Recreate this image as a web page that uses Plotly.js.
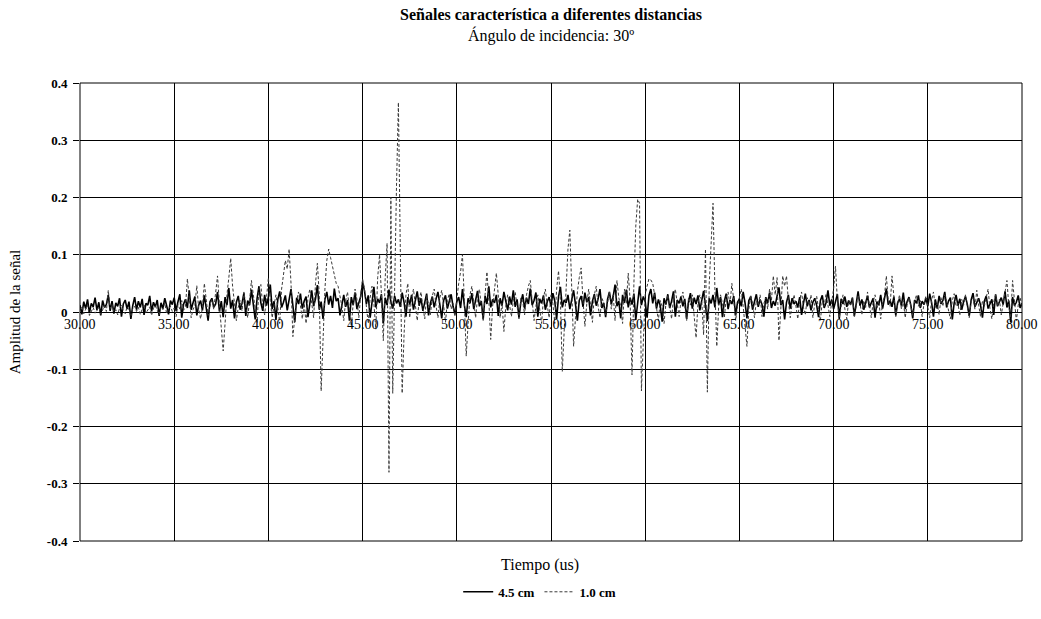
<!DOCTYPE html>
<html>
<head>
<meta charset="utf-8">
<script src="https://cdn.plot.ly/plotly-3.0.1.min.js"></script>
<style>html,body{margin:0;padding:0;background:#fff;}#chart{width:1041px;height:619px;}</style>
</head>
<body>
<div id="chart"></div>
<script>
// Time base (microseconds): first sample and sample step
const timeStart = 30.0;
const timeStep = 0.1;

// Series names
const seriesNames = ["4.5 cm", "1.0 cm"];

// Signal amplitude, 4.5 cm (one row per microsecond, 30..79, plus 80.0)
const amp45 = [
 0.012,-0.004,0.018,0.006,0.022,-0.002,0.015,0.009,0.025,0.003,
 0.017,-0.006,0.020,0.008,0.013,0.030,0.002,0.019,-0.003,0.016,
 0.010,0.024,-0.008,0.014,0.021,0.005,0.018,-0.012,0.011,0.026,
 0.004,0.019,0.008,0.023,-0.005,0.015,0.012,0.028,0.001,0.017,
 0.009,0.021,-0.007,0.016,0.006,0.024,0.011,-0.004,0.020,0.013,
 0.025,0.002,0.018,0.031,-0.010,0.014,0.022,0.007,0.038,0.004,
 0.016,0.027,-0.006,0.012,0.020,0.003,0.029,0.010,-0.015,0.018,
 0.024,0.008,0.014,0.035,0.001,0.019,-0.009,0.026,0.012,0.042,
 0.006,0.021,-0.011,0.017,0.028,0.004,0.015,0.033,-0.007,0.020,
 0.012,0.039,0.009,-0.013,0.024,0.045,0.016,0.002,0.030,0.011,
 0.026,0.048,0.005,0.019,-0.014,0.022,0.036,0.008,0.017,0.029,
 0.003,0.021,0.040,0.011,-0.018,0.025,0.014,0.032,0.006,0.019,
 0.027,-0.009,0.016,0.038,0.010,0.023,0.047,0.004,0.018,-0.012,
 0.022,0.035,0.013,0.028,0.007,0.041,0.019,0.024,-0.006,0.015,
 0.030,0.009,0.021,-0.015,0.026,0.012,0.034,0.005,0.018,0.027,
 0.052,0.037,0.014,0.029,-0.010,0.020,0.044,0.008,0.023,0.016,
 0.031,-0.020,0.025,0.012,0.039,0.018,0.006,0.028,0.015,0.022,
 0.009,0.034,0.017,-0.008,0.026,0.013,0.030,0.004,0.021,0.036,
 0.011,0.024,0.002,0.019,0.032,-0.006,0.016,0.027,0.008,0.023,
 0.035,0.013,-0.011,0.020,0.029,0.006,0.017,0.031,0.010,-0.004,
 0.018,0.026,0.007,0.040,0.012,-0.009,0.024,0.015,0.033,0.005,
 0.021,0.037,0.010,0.019,-0.013,0.028,0.014,0.045,0.008,0.022,
 0.016,0.030,-0.007,0.024,0.011,0.035,0.019,0.003,0.027,0.013,
 0.038,0.009,0.022,-0.010,0.017,0.031,0.006,0.025,0.014,0.041,
 0.012,0.020,0.034,-0.008,0.023,0.015,0.029,0.004,0.018,0.026,
 0.010,0.033,0.019,-0.012,0.027,0.044,0.008,0.021,0.016,0.030,
 0.005,0.024,0.038,0.013,-0.015,0.020,0.028,0.009,0.034,0.017,
 0.026,-0.006,0.019,0.031,0.011,0.023,0.040,0.007,0.016,-0.009,
 0.022,0.035,0.014,0.027,0.048,0.010,0.019,-0.011,0.030,0.016,
 0.039,0.008,0.025,0.013,0.032,-0.014,0.021,0.045,0.012,0.027,
 0.018,-0.010,0.029,0.040,0.015,0.034,0.006,0.022,0.011,-0.017,
 0.024,0.013,0.031,0.007,0.019,0.036,-0.008,0.021,0.015,0.027,
 0.010,0.023,-0.012,0.018,0.033,0.006,0.025,0.014,0.029,0.003,
 0.020,0.037,0.011,-0.016,0.024,0.015,0.030,0.008,0.042,0.013,
 0.026,-0.009,0.019,0.032,0.005,0.021,0.014,0.028,-0.006,0.017,
 0.023,0.010,0.035,0.016,-0.011,0.020,0.027,0.004,0.018,0.031,
 0.009,0.022,0.013,-0.008,0.026,0.015,0.034,0.007,0.019,0.011,
 0.028,0.043,0.012,0.021,-0.013,0.017,0.030,0.006,0.024,0.014,
 0.019,0.008,0.026,-0.005,0.015,0.032,0.010,0.021,0.003,0.017,
 0.024,0.012,-0.009,0.020,0.029,0.007,0.016,0.038,0.011,0.022,
 0.005,0.018,0.031,-0.012,0.023,0.014,0.027,0.009,0.020,0.013,
 0.025,-0.007,0.017,0.036,0.011,0.022,0.004,0.019,0.028,0.008,
 0.015,0.024,-0.010,0.018,0.012,0.030,0.006,0.021,0.041,0.013,
 0.020,0.009,0.027,-0.006,0.016,0.023,0.011,0.034,0.005,0.018,
 0.026,0.012,-0.011,0.021,0.015,0.029,0.007,0.019,0.013,0.024,
 0.010,0.032,0.017,-0.008,0.022,0.006,0.028,0.014,0.020,0.035,
 0.008,0.019,0.025,-0.013,0.016,0.030,0.011,0.023,0.004,0.018,
 0.027,0.013,-0.007,0.021,0.033,0.009,0.017,0.024,0.012,-0.010,
 0.019,0.028,0.006,0.015,0.022,-0.005,0.031,0.010,0.018,0.025,
 0.013,0.036,0.008,0.020,-0.018,0.026,0.011,0.017,0.029,0.007,
 0.015
];

// Signal amplitude, 1.0 cm (one row per microsecond, 30..79, plus 80.0)
const amp10 = [
 0.004,0.010,-0.003,0.006,0.012,-0.006,0.002,0.008,-0.002,0.005,
 0.009,-0.004,0.003,0.011,0.001,0.038,0.006,0.013,0.000,0.004,
 -0.005,0.007,0.012,0.002,-0.003,0.009,0.004,-0.008,0.006,0.010,
 0.001,0.008,-0.004,0.005,0.014,-0.002,0.003,0.009,-0.006,0.007,
 0.011,0.002,-0.005,0.008,0.004,0.016,-0.003,0.006,0.010,0.001,
 0.007,-0.008,0.013,0.005,0.020,0.003,0.010,0.058,0.018,-0.010,
 0.004,0.012,0.046,0.006,-0.012,0.008,0.050,0.015,-0.006,0.010,
 0.022,0.005,0.040,0.063,0.012,-0.025,-0.068,-0.020,0.030,0.060,
 0.094,0.045,0.010,-0.015,0.008,0.020,0.002,0.035,0.012,-0.010,
 0.020,0.055,0.030,0.005,-0.018,0.040,0.048,0.010,-0.005,0.025,
 0.060,0.020,-0.010,0.012,0.030,0.008,-0.020,0.040,0.065,0.090,
 0.075,0.110,0.050,-0.043,-0.010,0.020,0.035,0.010,-0.012,0.015,
 -0.020,0.025,0.040,0.015,-0.010,0.050,0.085,0.030,-0.138,-0.050,
 0.040,0.090,0.110,0.095,0.078,0.062,0.050,0.045,0.030,0.010,
 -0.015,0.020,0.035,0.008,-0.025,0.015,0.040,0.022,-0.010,0.030,
 0.058,0.040,0.010,-0.020,0.025,0.045,0.015,-0.030,0.060,0.100,
 0.030,-0.050,0.060,0.120,-0.280,0.200,-0.142,0.080,0.220,0.366,
 0.100,-0.142,-0.040,0.030,0.050,-0.010,0.025,0.040,0.012,-0.015,
 0.020,0.035,0.008,-0.012,0.030,0.015,-0.005,0.028,0.040,0.010,
 -0.010,0.025,0.038,0.012,-0.018,0.020,0.032,0.005,0.015,-0.008,
 0.025,0.050,0.070,0.100,0.020,-0.077,-0.020,0.030,0.045,0.015,
 -0.010,0.025,0.040,0.012,-0.015,0.030,0.070,0.020,-0.048,0.010,
 0.040,0.068,0.030,-0.010,0.015,-0.034,0.010,0.030,0.012,-0.008,
 0.020,0.035,0.010,-0.012,0.025,0.018,-0.005,0.030,0.045,0.055,
 0.020,-0.015,0.010,0.030,0.005,-0.020,0.025,0.040,0.012,-0.010,
 0.030,0.015,-0.020,0.040,0.072,0.020,-0.104,-0.030,0.060,0.110,
 0.143,0.040,-0.060,-0.010,0.035,0.060,0.077,0.020,-0.025,0.015,
 0.040,0.012,-0.018,0.030,0.045,0.010,-0.010,0.025,0.015,-0.005,
 0.020,0.035,0.005,0.030,-0.015,0.055,0.025,0.010,-0.020,0.040,
 0.015,0.068,0.020,-0.110,0.050,0.150,0.197,0.190,-0.138,-0.040,
 0.030,0.045,0.058,0.056,0.050,0.030,0.005,-0.015,0.020,0.010,
 -0.020,0.015,0.030,0.010,-0.012,0.025,0.040,0.015,-0.008,0.020,
 0.035,0.010,-0.015,0.025,0.012,0.030,-0.010,-0.045,0.015,0.030,
 0.020,-0.040,0.110,-0.140,0.050,0.120,0.190,0.040,-0.060,0.010,
 0.030,0.015,-0.010,0.025,0.035,0.012,0.050,0.020,-0.015,0.010,
 0.025,0.040,0.010,-0.020,-0.060,0.005,0.030,0.015,-0.010,0.020,
 0.012,0.030,-0.008,0.015,0.025,0.005,0.040,0.020,0.063,0.030,
 0.060,-0.050,0.020,0.063,0.045,0.063,0.020,-0.010,0.015,0.030,
 0.010,-0.012,0.020,0.035,0.008,-0.005,0.025,0.012,0.030,-0.010,
 0.015,0.028,0.005,-0.015,0.020,0.010,0.032,0.012,-0.008,0.018,
 0.040,0.080,0.020,-0.010,0.015,0.030,0.005,-0.012,0.020,0.012,
 0.025,-0.008,0.010,0.030,0.015,-0.005,0.020,0.008,0.035,0.012,
 -0.010,0.018,0.030,0.006,0.020,-0.012,0.015,0.028,0.063,0.020,
 0.010,0.063,0.025,-0.008,0.015,0.030,0.005,0.020,-0.010,0.012,
 0.025,0.008,-0.006,0.018,0.030,0.010,0.020,-0.008,0.015,0.028,
 0.012,-0.010,0.020,0.035,0.008,0.015,-0.005,0.025,0.010,0.030,
 0.018,0.005,-0.012,0.020,0.032,0.010,0.015,-0.006,0.022,0.012,
 0.030,0.008,-0.010,0.018,0.025,0.005,0.038,0.012,-0.008,0.020,
 0.010,0.025,0.040,0.006,-0.012,0.018,0.030,0.010,0.022,-0.005,
 0.015,0.030,0.055,0.010,-0.010,0.055,0.020,-0.015,0.012,0.025,
 0.010
];

// Axis tick labels
const yTickVals = [0.4, 0.3, 0.2, 0.1, 0, -0.1, -0.2, -0.3, -0.4];
const yTickText = ["0.4", "0.3", "0.2", "0.1", "0", "-0.1", "-0.2", "-0.3", "-0.4"];
const xTickVals = [30, 35, 40, 45, 50, 55, 60, 65, 70, 75, 80];
const xTickText = ["30.00", "35.00", "40.00", "45.00", "50.00", "55.00", "60.00", "65.00", "70.00", "75.00", "80.00"];

function timeAxis(n) {
  const t = [];
  for (let i = 0; i < n; i++) t.push(Math.round((timeStart + i * timeStep) * 1000) / 1000);
  return t;
}

const serif = "Liberation Serif, Times New Roman, serif";

const traces = [
  {
    x: timeAxis(amp45.length), y: amp45, name: seriesNames[0],
    type: "scatter", mode: "lines",
    line: {color: "#000000", width: 1.6}
  },
  {
    x: timeAxis(amp10.length), y: amp10, name: seriesNames[1],
    type: "scatter", mode: "lines",
    line: {color: "#3a3a3a", width: 1, dash: "3px,2px"}
  }
];

// x tick labels sit on the horizontal axis at amplitude 0 (positioned through the data axes)
const xLabelAnnotations = xTickVals.map((v, i) => ({
  text: xTickText[i], xref: "x", yref: "y", x: v, y: 0,
  xanchor: "center", yanchor: "top", yshift: -3, showarrow: false,
  font: {family: serif, size: 14, color: "#000"}
}));

const layout = {
  width: 1041, height: 619,
  margin: {l: 80, r: 19, t: 83, b: 68},
  paper_bgcolor: "#ffffff", plot_bgcolor: "#ffffff",
  showlegend: true,
  title: {
    text: "<b>Señales característica a diferentes distancias</b><br>Ángulo de incidencia: 30º",
    font: {family: serif, size: 16, color: "#000"},
    x: 0.5, xref: "paper", xanchor: "center",
    y: 0.968, yref: "container", yanchor: "top"
  },
  xaxis: {
    range: [30, 80],
    tickvals: xTickVals, showticklabels: false,
    showgrid: true, gridcolor: "#000", gridwidth: 1,
    showline: false, zeroline: false, ticks: "",
    fixedrange: true
  },
  yaxis: {
    range: [-0.4, 0.4],
    tickvals: yTickVals, ticktext: yTickText,
    showgrid: true, gridcolor: "#000", gridwidth: 1,
    zeroline: true, zerolinecolor: "#000", zerolinewidth: 1,
    showline: false,
    ticks: "outside", ticklen: 6, tickcolor: "#000", tickwidth: 1,
    ticklabelstandoff: 3,
    tickfont: {family: serif, size: 13, color: "#000", weight: "bold"},
    title: {text: "Amplitud de la señal", font: {family: serif, size: 15, color: "#000"}, standoff: 22},
    fixedrange: true
  },
  shapes: [
    {type: "rect", xref: "paper", yref: "paper", x0: 0, x1: 1, y0: 0, y1: 1,
     line: {color: "#000", width: 1}, fillcolor: "rgba(0,0,0,0)", layer: "above"}
  ],
  annotations: xLabelAnnotations.concat([
    {text: "Tiempo (us)", xref: "paper", yref: "paper", x: 0.488, y: -0.053,
     xanchor: "center", yanchor: "middle", showarrow: false,
     font: {family: serif, size: 16, color: "#000"}}
  ]),
  legend: {
    orientation: "h", x: 0.488, xanchor: "center", y: -0.111, yanchor: "middle",
    font: {family: serif, size: 13, color: "#000", weight: "bold"},
    bgcolor: "rgba(0,0,0,0)", itemwidth: 30, tracegroupgap: 0
  }
};

Plotly.newPlot("chart", traces, layout, {displayModeBar: false, staticPlot: true});
</script>
</body>
</html>
